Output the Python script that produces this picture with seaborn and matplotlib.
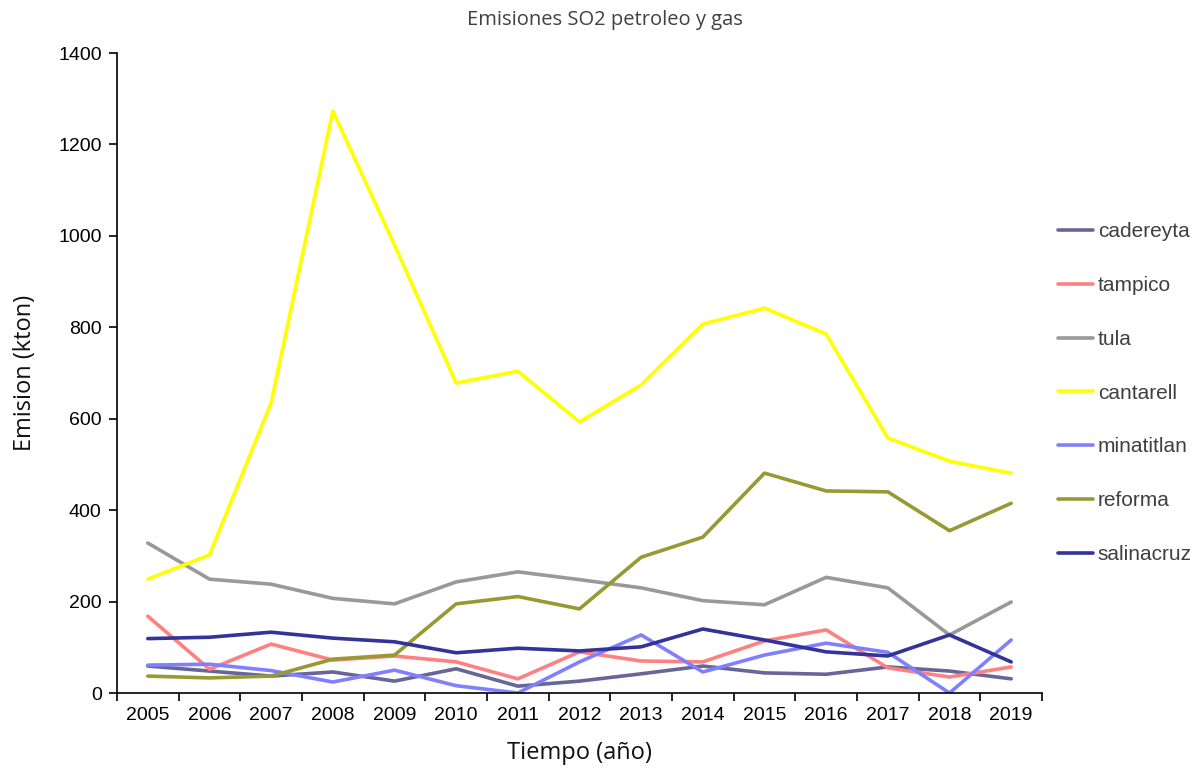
import numpy as np
import pandas as pd
import seaborn as sns
import matplotlib.pyplot as plt

# data
years = list(range(2005, 2020))
cadereyta = [59, 48, 37, 46, 26, 53, 15, 26, 42, 59, 44, 41, 57, 48, 31]
tampico = [168, 52, 107, 72, 81, 68, 31, 90, 70, 68, 114, 138, 55, 35, 57]
tula = [328, 249, 238, 207, 195, 243, 265, 248, 230, 202, 193, 253, 230, 127, 199]
cantarell = [249, 302, 635, 1273, 980, 678, 704, 593, 674, 807, 842, 785, 558, 507, 481]
minatitlan = [61, 63, 49, 24, 50, 16, 0, 68, 127, 46, 83, 109, 89, 0, 116]
reforma = [37, 33, 37, 74, 83, 195, 211, 184, 297, 341, 481, 442, 440, 355, 415]
salinacruz = [119, 122, 133, 120, 112, 88, 98, 92, 101, 140, 116, 90, 81, 127, 68]

series = {
    "cadereyta": cadereyta,
    "tampico": tampico,
    "tula": tula,
    "cantarell": cantarell,
    "minatitlan": minatitlan,
    "reforma": reforma,
    "salinacruz": salinacruz,
}
colors = {
    "cadereyta": "#666699",
    "tampico": "#FF8080",
    "tula": "#999999",
    "cantarell": "#FFFF00",
    "minatitlan": "#8080FF",
    "reforma": "#999933",
    "salinacruz": "#333399",
}

rows = []
for name, vals in series.items():
    for i, v in enumerate(vals):
        rows.append({"pos": i, "year": years[i], "serie": name, "valor": v})
df = pd.DataFrame(rows)

sns.set_theme(style="white")
plt.rcParams["font.family"] = ["Liberation Sans", "DejaVu Sans"]

fig = plt.figure(figsize=(11.95, 7.71), dpi=100)
ax = fig.add_axes([117 / 1195, 1 - 693 / 771, (1042 - 117) / 1195, (693 - 53) / 771])

sns.lineplot(data=df, x="pos", y="valor", hue="serie", palette=colors,
             linewidth=2.6, ax=ax, legend=True)

ax.set_xlim(-0.5, len(years) - 0.5)
ax.set_ylim(0, 1400)
ax.set_yticks(np.arange(0, 1401, 200))
ax.set_xticks(range(len(years)))
ax.set_xticklabels([str(y) for y in years])
ax.set_xticks(np.arange(-0.5, len(years), 1), minor=True)
ax.tick_params(axis="x", which="major", length=0, labelsize=14, pad=10, colors="black")
ax.tick_params(axis="x", which="minor", length=6, width=1.2, color="black", bottom=True)
ax.tick_params(axis="y", which="major", length=6, width=1.2, color="black",
               labelsize=14, left=True, pad=5, labelcolor="black")

for side in ["top", "right"]:
    ax.spines[side].set_visible(False)
for side in ["left", "bottom"]:
    ax.spines[side].set_color("black")
    ax.spines[side].set_linewidth(1.2)
ax.grid(False)

ax.set_xlabel("Tiempo (año)", fontsize=17, family=["Open Sans", "DejaVu Sans"],
              labelpad=12, color="#111111")
ax.set_ylabel("Emision (kton)", fontsize=17, family=["Open Sans", "DejaVu Sans"],
              labelpad=15, color="#111111")
fig.text(605 / 1195, 1 - 20 / 771, "Emisiones SO2 petroleo y gas", ha="center", va="center",
         fontsize=14.5, color="#404040", family=["Open Sans", "DejaVu Sans"])

# legend sits outside the axes on the right
handles, labels = ax.get_legend_handles_labels()
ax.get_legend().remove()
leg = fig.legend(handles, labels, loc="upper left", bbox_to_anchor=(1050 / 1195, 1 - 214 / 771),
                 frameon=False, fontsize=15, handlelength=1.65, handletextpad=0.25,
                 labelspacing=1.67, labelcolor="#404040", borderaxespad=0)
for h in leg.get_lines():
    h.set_linewidth(2.6)

fig.savefig("out.png", dpi=100, facecolor="white")
